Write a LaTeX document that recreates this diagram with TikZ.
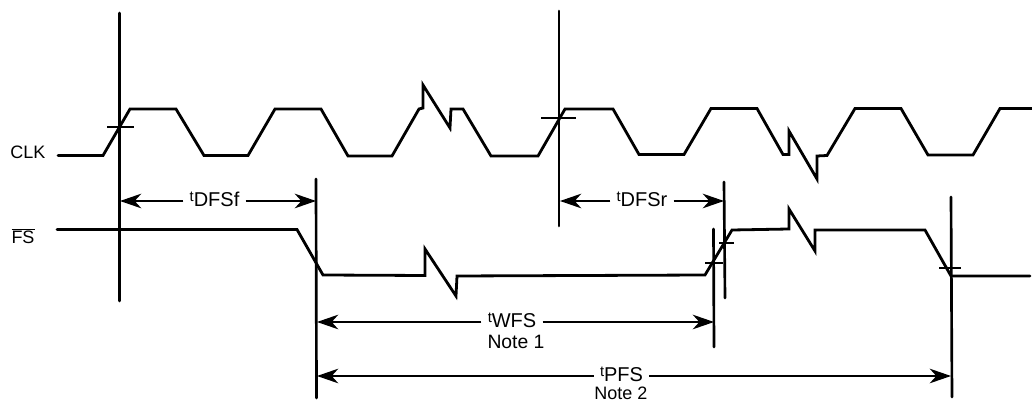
\documentclass[tikz,border=0pt]{standalone}
\usepackage{fontspec}
\setmainfont{Liberation Sans}
\usetikzlibrary{arrows.meta}
\newcommand{\tsub}[1]{\raisebox{0.45ex}{\fontsize{11}{11}\selectfont t}#1}
\tikzset{
  wave/.style={line width=2.1pt, line join=miter, line cap=round},
  edgeline/.style={line width=2pt, line cap=round},
  tickline/.style={line width=2pt},
  dimline/.style={line width=1.1pt, -{Stealth[length=16pt,width=11pt,inset=5pt]}},
  dimtext/.style={font=\fontsize{15}{16}\selectfont, inner sep=4.5pt, text height=8pt, text depth=0pt},
  sigtext/.style={font=\fontsize{13.5}{14}\selectfont, inner sep=0pt},
  notetext/.style={font=\fontsize{14.5}{15}\selectfont, inner sep=0pt}
}
\begin{document}
\begin{tikzpicture}[x=0.75pt, y=-0.75pt]
  \useasboundingbox (0,0) rectangle (1032,402);
  % signals
  \node[sigtext] (clk) at (28,152) {CLK};
  \node[sigtext] (fs) at (23,236) {$\overline{\mbox{FS}}$};
  \draw[wave] (58,155.5) -- (103,155.5) -- (130,109) -- (176,109) -- (204,155.5) -- (248,155.5)
    -- (275,109) -- (321,109) -- (348,156) -- (392,156) -- (419,109) -- (423,108) -- (423,85)
    -- (450,128) -- (451,109) -- (463,109) -- (491,156) -- (538,156) -- (565,109) -- (613,109)
    -- (639,154.5) -- (684,154.5) -- (711,108.5) -- (757,108.5) -- (783,154.5) -- (789,154.5)
    -- (789,131) -- (817,179) -- (817,156) -- (827,155.5) -- (855,108.5) -- (901,108.5)
    -- (928,155) -- (973,155) -- (1000,108.5) -- (1032,108.5);
  \draw[wave] (57,229.5) -- (297,229.5) -- (323,275) -- (425,275.5) -- (425,249) -- (456,296)
    -- (457,276) -- (705,275) -- (732,230) -- (789,229) -- (789,209) -- (815,251) -- (815,230)
    -- (925,230) -- (951,276) -- (1030,276);
  % edge lines
  \draw[edgeline] (119.5,13) coordinate (a_top) -- (119.5,301) coordinate (a_bot);
  \draw[edgeline] (316,179) coordinate (b_top) -- (316.5,398) coordinate (b_bot);
  \draw[edgeline] (559,11) coordinate (c_top) -- (559,226) coordinate (c_bot);
  \draw[edgeline] (724,182) coordinate (d_top) -- (725,298) coordinate (d_bot);
  \draw[edgeline] (713.5,229) coordinate (e_top) -- (714,347) coordinate (e_bot);
  \draw[edgeline] (951,197) coordinate (f_top) -- (952,397) coordinate (f_bot);
  % crossing marks
  \draw[tickline] (107,127) -- (134,127);
  \draw[tickline] (541,118) -- (576,118);
  \draw[tickline] (705,263) -- (723,263);
  \draw[tickline] (719,243) -- (734,243);
  \draw[tickline] (939,268) -- (961,268);
  % timing labels
  \node[dimtext] (t_dfsf) at (214.5,201) {\tsub{DFSf}};
  \node[dimtext] (t_dfsr) at (642,201) {\tsub{DFSr}};
  \node[dimtext] (t_wfs) at (512,322) {\tsub{WFS}};
  \node[dimtext] (t_pfs) at (621.5,376) {\tsub{PFS}};
  \node[notetext, font=\fontsize{13.5}{14}\selectfont] (note_b) at (621,393) {Note 2};
  \node[notetext] (note_a) at (516,341.5) {Note 1};
  \coordinate (dfsf_l) at (120,201);
  \coordinate (dfsf_r) at (316,201);
  \coordinate (dfsr_l) at (560,201);
  \coordinate (dfsr_r) at (724,201);
  \coordinate (wfs_l) at (317,322);
  \coordinate (wfs_r) at (714,322);
  \coordinate (pfs_l) at (317,376);
  \coordinate (pfs_r) at (951,376);
  \draw[dimline] (t_dfsf) -- (dfsf_l);
  \draw[dimline] (t_dfsf) -- (dfsf_r);
  \draw[dimline] (t_dfsr) -- (dfsr_l);
  \draw[dimline] (t_dfsr) -- (dfsr_r);
  \draw[dimline] (t_wfs) -- (wfs_l);
  \draw[dimline] (t_wfs) -- (wfs_r);
  \draw[dimline] (t_pfs) -- (pfs_l);
  \draw[dimline] (t_pfs) -- (pfs_r);
\end{tikzpicture}
\end{document}
